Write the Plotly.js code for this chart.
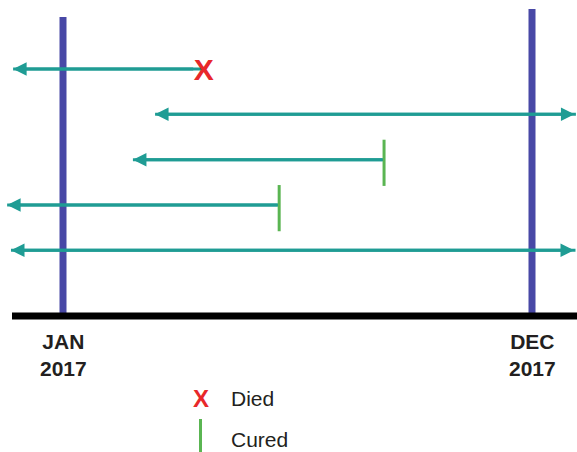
<!DOCTYPE html>
<html>
<head>
<meta charset="utf-8">
<script src="https://cdn.plot.ly/plotly-3.0.1.min.js"></script>
<style>html,body{margin:0;padding:0;background:#fff;}#chart{width:577px;height:452px;}</style>
</head>
<body>
<div id="chart"></div>
<script>
// ---- data (months relative to JAN 2017 = 0) ----
const patients = ['Patient 1', 'Patient 2', 'Patient 3', 'Patient 4', 'Patient 5'];
const startMonth = [-1.17, 2.16, 1.64, -1.31, -1.22];
const endMonth = [3.3, 12.03, 7.53, 5.07, 12.02];
const outcome = ['Died', 'Ongoing', 'Cured', 'Cured', 'Ongoing'];
const periodMonths = [0, 11];
const periodLabels = ['JAN<br>2017', 'DEC<br>2017'];
const legendLabels = ['Died', 'Cured'];

// ---- styles ----
const TEAL = '#1f9c94';
const BLUE = '#4848a6';
const RED = '#e8282a';
const GREEN = '#5ab552';
const INK = '#231f20';
const FONT = 'Liberation Sans, Arial, sans-serif';

const W = 577, H = 452;
const X_RANGE = [-1.4776, 12.0554];
const Y_RANGE = [9.4496, -0.5217];
const py = v => 1 - v / H; // pixel row -> paper
const pxX = v => v / W;

const rows = patients.map((p, i) => i + 1);

const traces = [];
// interval lines
patients.forEach((p, i) => {
  traces.push({
    type: 'scatter', mode: 'lines', name: p, showlegend: false, hoverinfo: 'skip',
    x: [startMonth[i], endMonth[i]], y: [rows[i], rows[i]],
    line: {color: TEAL, width: 3}
  });
});
// died markers
const diedIdx = outcome.map((o, i) => o === 'Died' ? i : -1).filter(i => i >= 0);
traces.push({
  type: 'scatter', mode: 'text', showlegend: false, hoverinfo: 'skip',
  x: diedIdx.map(i => endMonth[i]), y: diedIdx.map(i => rows[i] + 0.07),
  text: diedIdx.map(() => 'X'), textposition: 'middle center',
  textfont: {family: FONT, size: 30, color: RED, weight: 'bold'}, cliponaxis: false
});
// cured markers
const curedIdx = outcome.map((o, i) => o === 'Cured' ? i : -1).filter(i => i >= 0);
traces.push({
  type: 'scatter', mode: 'markers', showlegend: false, hoverinfo: 'skip',
  x: curedIdx.map(i => endMonth[i]), y: curedIdx.map(i => rows[i] + 0.07),
  marker: {symbol: 'line-ns', size: 33, color: GREEN, line: {color: GREEN, width: 3}},
  cliponaxis: false
});

// arrowheads
const annotations = [];
patients.forEach((p, i) => {
  const ongoing = outcome[i] === 'Ongoing';
  annotations.push({
    xref: 'x', yref: 'y', axref: 'x', ayref: 'y',
    x: startMonth[i], y: rows[i], ax: endMonth[i], ay: rows[i],
    text: '', showarrow: true,
    arrowhead: 2, arrowsize: 0.9, arrowwidth: 3, arrowcolor: TEAL,
    arrowside: ongoing ? 'end+start' : 'end',
    startarrowhead: 2, startarrowsize: 0.9,
    startstandoff: outcome[i] === 'Died' ? 9 : 0
  });
});
// period labels
periodMonths.forEach((m, k) => {
  annotations.push({
    xref: 'x', yref: 'paper', x: m, y: py(354.5), xanchor: 'center', yanchor: 'middle',
    text: periodLabels[k], showarrow: false,
    font: {family: FONT, size: 21, color: INK, weight: 'bold'}
  });
});
// legend
annotations.push({
  xref: 'paper', yref: 'paper', x: pxX(200.7), y: py(398), xanchor: 'center', yanchor: 'middle',
  text: 'X', showarrow: false, font: {family: FONT, size: 24, color: RED, weight: 'bold'}
});
annotations.push({
  xref: 'paper', yref: 'paper', x: pxX(229), y: py(398), xanchor: 'left', yanchor: 'middle',
  text: legendLabels[0], showarrow: false, font: {family: FONT, size: 21, color: INK}
});
annotations.push({
  xref: 'paper', yref: 'paper', x: pxX(229), y: py(439), xanchor: 'left', yanchor: 'middle',
  text: legendLabels[1], showarrow: false, font: {family: FONT, size: 21, color: INK}
});

const shapes = [];
const lineTops = [17, 9];
periodMonths.forEach((m, k) => {
  shapes.push({
    type: 'line', layer: 'below', xref: 'x', yref: 'paper',
    x0: m, x1: m, y0: py(lineTops[k]), y1: py(316),
    line: {color: BLUE, width: 7}
  });
});
shapes.push({
  type: 'line', layer: 'above', xref: 'paper', yref: 'paper',
  x0: pxX(12), x1: 1, y0: py(316), y1: py(316),
  line: {color: '#000', width: 7}
});
shapes.push({
  type: 'line', xref: 'paper', yref: 'paper',
  x0: pxX(200.5), x1: pxX(200.5), y0: py(419), y1: py(452),
  line: {color: GREEN, width: 3}
});

const layout = {
  width: W, height: H,
  margin: {l: 0, r: 0, t: 0, b: 0, pad: 0},
  paper_bgcolor: '#fff', plot_bgcolor: '#fff',
  showlegend: false,
  xaxis: {range: X_RANGE, visible: false, showgrid: false, zeroline: false, fixedrange: true},
  yaxis: {range: Y_RANGE, visible: false, showgrid: false, zeroline: false, fixedrange: true},
  annotations: annotations,
  shapes: shapes
};

Plotly.newPlot('chart', traces, layout, {displayModeBar: false, staticPlot: true});
</script>
</body>
</html>
